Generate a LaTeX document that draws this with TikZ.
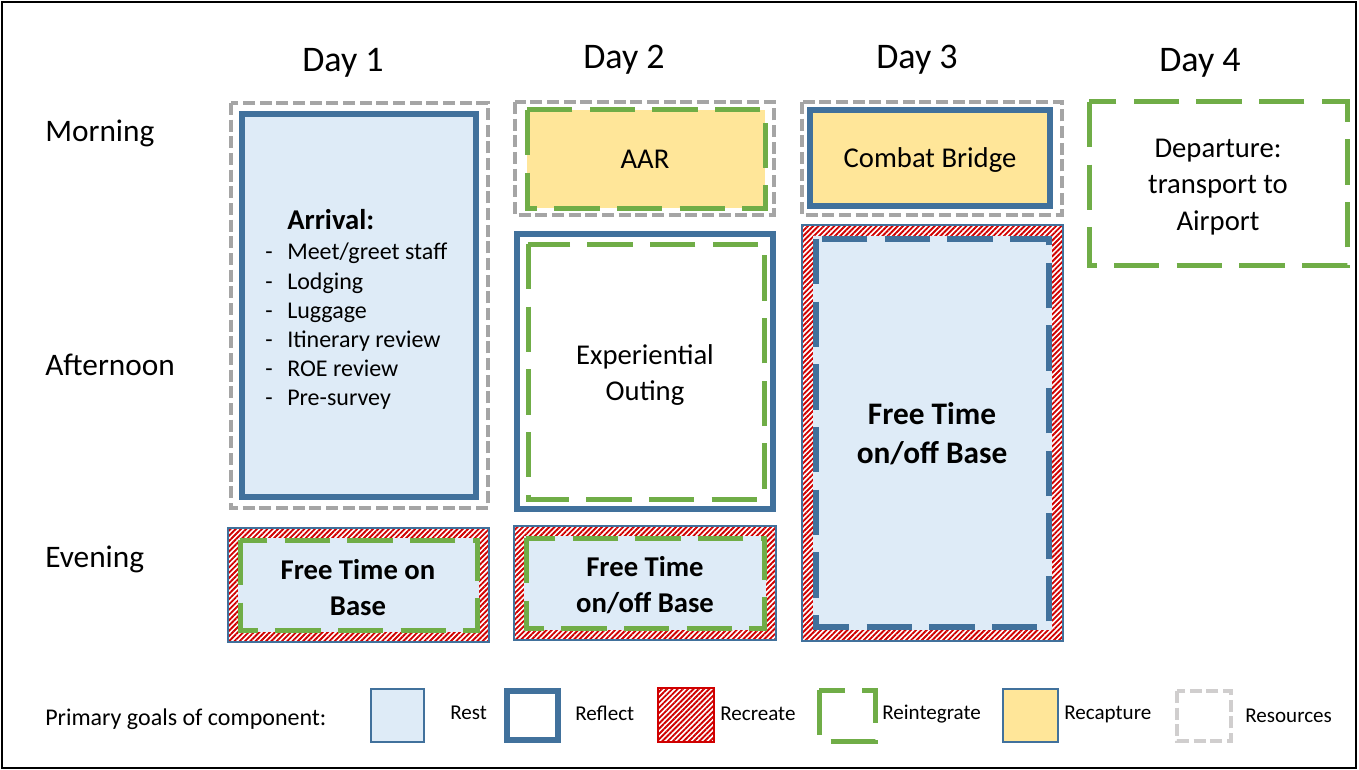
\documentclass[tikz,border=0pt]{standalone}
\usepackage{fontspec}
\setmainfont{Carlito}
\usetikzlibrary{patterns.meta}
\definecolor{bblue}{HTML}{41719C}
\definecolor{lblue}{HTML}{DEEBF7}
\definecolor{ggreen}{HTML}{70AD47}
\definecolor{ggray}{HTML}{A5A5A5}
\definecolor{lgray}{HTML}{D0CECE}
\definecolor{yyel}{HTML}{FFE699}
\definecolor{rred}{HTML}{D00000}
\begin{document}
\begin{tikzpicture}[x=0.75pt,y=-0.75pt,
  reflectline/.style={draw=bblue,line width=4.1pt},
  restline/.style={draw=bblue,line width=1.2pt},
  reint/.style={draw=ggreen,line width=3.75pt,dash pattern=on 34pt off 13pt},
  resrc/.style={draw=ggray,line width=3.6pt,dash pattern=on 9pt off 3.5pt},
  recreate/.style={pattern={Lines[angle=45,distance=2.8pt,line width=1.4pt]},pattern color=rred},
  daylbl/.style={anchor=base,font=\fontsize{27}{32}\selectfont,inner sep=0pt},
  rowlbl/.style={anchor=base west,font=\fontsize{23.5}{28}\selectfont,inner sep=0pt},
  body/.style={anchor=base,font=\fontsize{21.5}{26}\selectfont,inner sep=0pt},
  bbody/.style={anchor=base,font=\fontsize{21.5}{26}\selectfont\bfseries,inner sep=0pt},
  listtxt/.style={anchor=base west,font=\fontsize{18}{22}\selectfont,inner sep=0pt},
  leg/.style={anchor=base west,font=\fontsize{15.8}{19}\selectfont,inner sep=0pt}]
\useasboundingbox (0,0) rectangle (1359,770);
\fill[white] (0,0) rectangle (1359,770);
\draw[black,line width=1.5pt] (2,2) rectangle (1356,768);

% headers
\node[daylbl] (d1) at (343,72) {Day 1};
\node[daylbl] (d2) at (624,69) {Day 2};
\node[daylbl] (d3) at (917,69) {Day 3};
\node[daylbl] (d4) at (1200,72) {Day 4};
\node[rowlbl] (morning) at (45,142) {Morning};
\node[rowlbl] (afternoon) at (45,375) {Afternoon};
\node[rowlbl] (evening) at (45,567) {Evening};

% Day 1
\draw[resrc] (231,103) rectangle (488,508);
\draw[reflectline,fill=lblue] (242,114) rectangle (476,497);
\node[anchor=base west,font=\fontsize{21.5}{26}\selectfont\bfseries,inner sep=0pt] (arr) at (287,229) {Arrival:};
\foreach \t/\y [count=\i] in {{Meet/greet staff}/259,{Lodging}/289,{Luggage}/318,{Itinerary review}/347,{ROE review}/376,{Pre-survey}/405}{
  \node[listtxt] (dash\i) at (265,\y) {-};
  \node[listtxt] (li\i) at (287,\y) {\t};
}

\fill[white] (228,528) rectangle (489,642);
\fill[recreate] (228,528) rectangle (489,642);
\fill[lblue] (238,538) rectangle (479,632);
\draw[restline] (228,528) rectangle (489,642);
\draw[reint] (240,540) rectangle (477,630);
\node[bbody] (e1a) at (358,579) {Free Time on};
\node[bbody] (e1b) at (358,615) {Base};

% Day 2
\draw[resrc] (515,102) rectangle (774,215);
\fill[yyel] (527,110) rectangle (765,208);
\draw[reint] (527,110) rectangle (765,208);
\node[body] (aar) at (645,169) {AAR};

\draw[reflectline,fill=white] (517,234) rectangle (773,509);
\draw[reint] (528,244) rectangle (764,499);
\node[body] (exa) at (645,364) {Experiential};
\node[body] (exb) at (645,400) {Outing};

\fill[white] (514,526) rectangle (776,640);
\fill[recreate] (514,526) rectangle (776,640);
\fill[lblue] (524,536) rectangle (766,630);
\draw[restline] (514,526) rectangle (776,640);
\draw[reint] (526,538) rectangle (764,628);
\node[bbody] (e2a) at (645,576) {Free Time};
\node[bbody] (e2b) at (645,612) {on/off Base};

% Day 3
\draw[resrc] (802,102) rectangle (1062,215);
\draw[reflectline,fill=yyel] (810,110) rectangle (1050,206);
\node[body] (cb) at (930,168) {Combat Bridge};

\fill[white] (802,225) rectangle (1063,641);
\fill[recreate] (802,225) rectangle (1063,641);
\fill[lblue] (813,236) rectangle (1052,630);
\draw[restline] (802,225) rectangle (1063,641);
\draw[draw=bblue,line width=4.1pt,dash pattern=on 34pt off 13pt] (816,239) rectangle (1049,627);
\node[bbody,font=\fontsize{23.5}{28}\selectfont\bfseries] (f3a) at (932,424) {Free Time};
\node[bbody,font=\fontsize{23.5}{28}\selectfont\bfseries] (f3b) at (932,463) {on/off Base};

% Day 4
\draw[reint] (1089,102) rectangle (1347,265);
\node[body] (dpa) at (1218,157) {Departure:};
\node[body] (dpb) at (1218,194) {transport to};
\node[body] (dpc) at (1218,230) {Airport};

% legend
\node[leg,font=\fontsize{18}{22}\selectfont] (pg) at (45,725) {Primary goals of component:};
\draw[restline,fill=lblue] (371,689) rectangle (424,742);
\node[leg] (lrest) at (450,719) {Rest};
\draw[reflectline] (507,691) rectangle (558,740);
\node[leg] (lrefl) at (575,720) {Reflect};
\fill[white] (658,688) rectangle (714,742);
\fill[recreate] (658,688) rectangle (714,742);
\draw[rred,line width=1.2pt] (658,688) rectangle (714,742);
\node[leg] (lrecr) at (720,720) {Recreate};
\draw[reint] (819,690) rectangle (875,741);
\node[leg] (lrein) at (882,719) {Reintegrate};
\draw[restline,fill=yyel] (1003,689) rectangle (1058,742);
\node[leg] (lreca) at (1064,719) {Recapture};
\draw[resrc,draw=lgray] (1177,691) rectangle (1231,741);
\node[leg] (lreso) at (1245,722) {Resources};
\end{tikzpicture}
\end{document}
